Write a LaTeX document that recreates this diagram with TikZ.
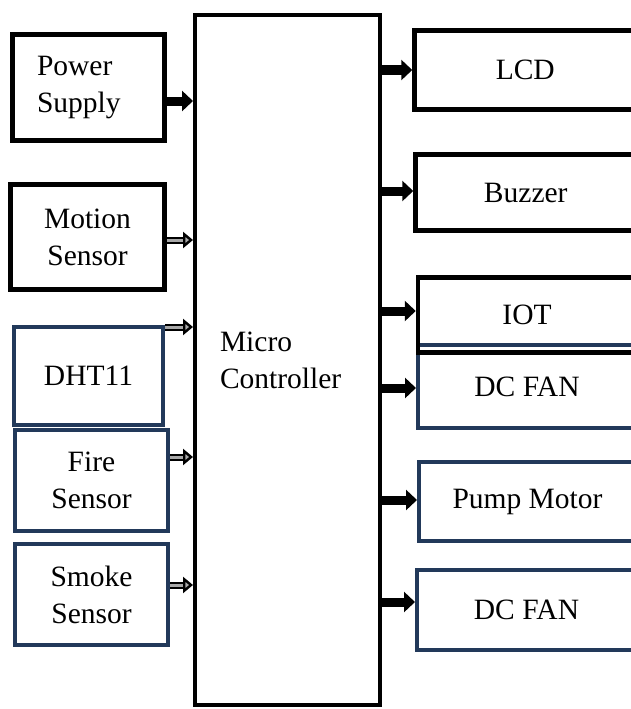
\documentclass[tikz,border=0pt]{standalone}
\usepackage{fontspec}
\setmainfont{Liberation Serif}
\usetikzlibrary{arrows.meta}
\definecolor{bdNavy}{HTML}{22395A}
\definecolor{bdPale}{HTML}{A8A8A8}
\tikzset{
  bd box/.style={draw=black, line width=4.5pt, rectangle, inner sep=0pt, align=center, font=\fontsize{29.5}{37}\selectfont},
  bd navy box/.style={bd box, draw=bdNavy, line width=4pt},
  bd out/.style={draw=black, line width=9pt, -{Triangle[length=11pt, width=20pt]}},
  bd feed/.style={draw=black, line width=2pt, double=bdPale, double distance=3pt, -{Triangle[open, length=10pt, width=16pt, line width=2.4pt, fill=bdPale]}},
}

\begin{document}
\begin{tikzpicture}[x=1pt, y=-1pt]
  \useasboundingbox (0,0) rectangle (631,709);
  \clip (0,0) rectangle (631,709);
  % Controller in the middle
  \node[bd box, line width=4pt, minimum width=185pt, minimum height=690pt, text width=135pt, align=left] (mc) at (287.5,360) {Micro\\Controller};
  % Inputs on the left
  \node[bd box, minimum width=152pt, minimum height=106pt, text width=103pt, align=left] (ps) at (88.5,87.5) {Power\\Supply};
  \node[bd box, minimum width=154pt, minimum height=105pt] (ms) at (87.5,237) {Motion\\Sensor};
  \node[bd navy box, minimum width=149pt, minimum height=98pt] (dht) at (88.5,376) {DHT11};
  \node[bd navy box, minimum width=153pt, minimum height=101pt] (fire) at (91.5,480.5) {Fire\\Sensor};
  \node[bd navy box, minimum width=153pt, minimum height=101pt] (smoke) at (91.5,594.5) {Smoke\\Sensor};
  % Outputs on the right, cut off by the page edge
  \node[bd box, minimum width=221.5pt, minimum height=79pt] (lcd) at (525.25,70) {LCD};
  \node[bd box, minimum width=220.5pt, minimum height=76pt] (buz) at (525.75,192.5) {Buzzer};
  \node[bd navy box, minimum width=218pt, minimum height=83pt] (fanA) at (527,386.5) {DC FAN};
  \node[bd box, minimum width=218pt, minimum height=75pt] (iot) at (527,315) {IOT};
  \node[bd navy box, minimum width=217pt, minimum height=79pt] (pump) at (527.5,501.5) {Pump Motor};
  \node[bd navy box, minimum width=219pt, minimum height=80pt] (fanB) at (526.5,610) {DC FAN};
  % Arrows into the controller
  \draw[bd out] (ps.east |- 0,101) -- (mc.west |- 0,101);
  \foreach \src/\yy in {ms/240, dht/327, fire/457, smoke/585}
    \draw[bd feed] (\src.east |- 0,\yy) -- (mc.west |- 0,\yy);
  % Arrows out of the controller
  \foreach \dst/\yy in {lcd/70, buz/191, iot/311, fanA/388, pump/500, fanB/602}
    \draw[bd out] (mc.east |- 0,\yy) -- (\dst.west |- 0,\yy);
\end{tikzpicture}
\end{document}
